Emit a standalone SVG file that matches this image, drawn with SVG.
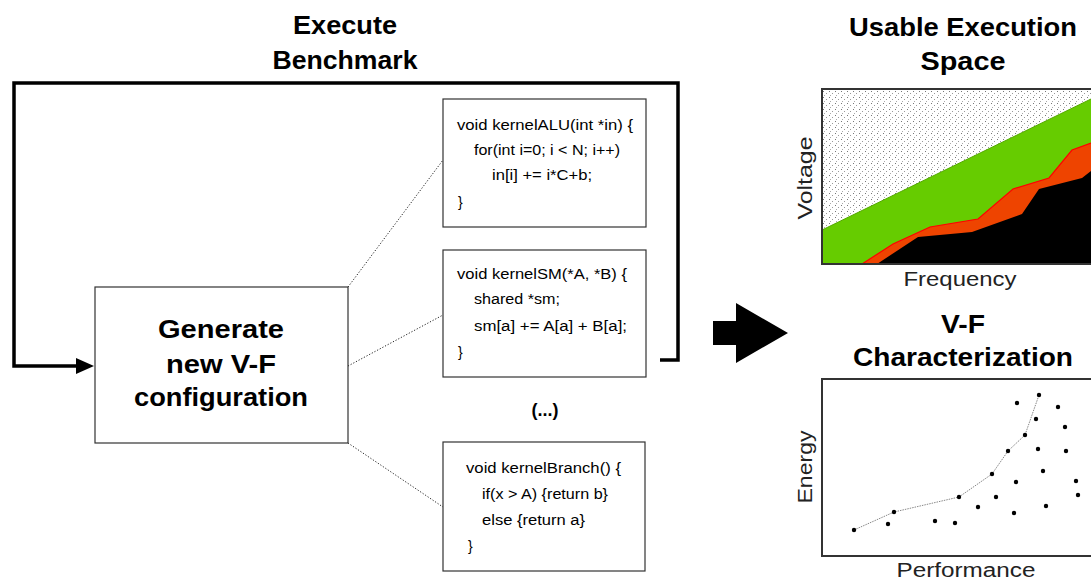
<svg xmlns="http://www.w3.org/2000/svg" width="1091" height="579" viewBox="0 0 1091 579">
<style>
.title{font-family:"Liberation Sans",Arial,sans-serif;font-weight:bold;font-size:25px;fill:#000;text-anchor:middle}
.code{font-family:"Liberation Sans",Arial,sans-serif;font-size:14px;fill:#000}
.axis{font-family:"Liberation Sans",Arial,sans-serif;font-size:20px;fill:#222;text-anchor:middle}
.box{fill:#fff;stroke:#333;stroke-width:1.2}
.dotline{fill:none;stroke:#222;stroke-width:1;stroke-dasharray:1.2 1.8}
.loop{fill:none;stroke:#000;stroke-width:3.5}
.pt{fill:#000}
</style>
<defs>
<pattern id="stip" width="6" height="6" patternUnits="userSpaceOnUse">
<rect width="6" height="6" fill="#fff"/>
<rect x="1" y="1" width="1" height="1" fill="#777"/>
<rect x="4" y="3" width="1" height="1" fill="#999"/>
<rect x="2" y="5" width="1" height="1" fill="#aaa"/>
</pattern>
</defs>

<g id="title-execute">
<text class="title" x="345" y="34" textLength="104" lengthAdjust="spacingAndGlyphs">Execute</text>
<text class="title" x="345" y="69" textLength="145" lengthAdjust="spacingAndGlyphs">Benchmark</text>
</g>

<g id="connectors">
<polyline class="loop" points="660,360 678,360 678,83 14,83 14,366 78,366"/>
<path d="M76,358 L94,366 L76,374 Z" fill="#000"/>
<line class="dotline" x1="348" y1="287" x2="443" y2="160"/>
<line class="dotline" x1="348" y1="366" x2="443" y2="315"/>
<line class="dotline" x1="348" y1="443" x2="443" y2="507"/>
</g>

<g id="node-generate">
<rect class="box" x="95" y="287" width="253" height="156"/>
<text class="title" x="221" y="338" textLength="126" lengthAdjust="spacingAndGlyphs">Generate</text>
<text class="title" x="221" y="373" textLength="110" lengthAdjust="spacingAndGlyphs">new V-F</text>
<text class="title" x="221" y="406" textLength="174" lengthAdjust="spacingAndGlyphs">configuration</text>
</g>

<g id="node-kernelALU">
<rect class="box" x="443" y="99" width="203" height="128"/>
<text class="code" x="457" y="130" textLength="176" lengthAdjust="spacingAndGlyphs">void kernelALU(int *in) {</text>
<text class="code" x="474" y="155" textLength="146" lengthAdjust="spacingAndGlyphs">for(int i=0; i &lt; N; i++)</text>
<text class="code" x="492" y="180" textLength="100" lengthAdjust="spacingAndGlyphs">in[i] += i*C+b;</text>
<text class="code" x="458" y="207">}</text>
</g>

<g id="node-kernelSM">
<rect class="box" x="443" y="250" width="203" height="127"/>
<text class="code" x="457" y="279" textLength="170" lengthAdjust="spacingAndGlyphs">void kernelSM(*A, *B) {</text>
<text class="code" x="474" y="304" textLength="86" lengthAdjust="spacingAndGlyphs">shared *sm;</text>
<text class="code" x="474" y="331" textLength="153" lengthAdjust="spacingAndGlyphs">sm[a] += A[a] + B[a];</text>
<text class="code" x="458" y="357">}</text>
</g>

<g id="node-ellipsis">
<text class="title" x="545" y="416" style="font-size:18px">(...)</text>
</g>

<g id="node-kernelBranch">
<rect class="box" x="443" y="442" width="202" height="129"/>
<text class="code" x="466" y="473" textLength="155" lengthAdjust="spacingAndGlyphs">void kernelBranch() {</text>
<text class="code" x="482" y="499" textLength="126" lengthAdjust="spacingAndGlyphs">if(x &gt; A) {return b}</text>
<text class="code" x="482" y="525" textLength="103" lengthAdjust="spacingAndGlyphs">else {return a}</text>
<text class="code" x="468" y="551">}</text>
</g>

<g id="big-arrow">
<path d="M713,321 L736,321 L736,303 L788,333 L736,363 L736,345 L713,345 Z" fill="#000"/>
</g>

<g id="title-usable">
<text class="title" x="963" y="36" textLength="228" lengthAdjust="spacingAndGlyphs">Usable Execution</text>
<text class="title" x="963" y="70" textLength="85" lengthAdjust="spacingAndGlyphs">Space</text>
</g>

<g id="chart-vf">
<rect x="822" y="89" width="272" height="175" fill="url(#stip)"/>
<path d="M822,230 L1091,99 L1091,264 L822,264 Z" fill="#66cc00"/>
<path d="M862,264 L893,244 L930,227 L978,219 L1013,189 L1049,178 L1072,150 L1091,143 L1091,264 Z" fill="#ee4400"/>
<polyline points="862,264 893,244 930,227 978,219 1013,189 1049,178 1072,150 1091,143" fill="none" stroke="#ff0000" stroke-width="1.2"/>
<path d="M877,264 L918,237 L972,232 L1022,214 L1039,189 L1082,178 L1091,171 L1091,264 Z" fill="#000"/>
<line x1="822" y1="230" x2="1091" y2="99" stroke="#55aa00" stroke-width="1"/>
<polyline points="1093,89 822,89 822,264 1093,264" fill="none" stroke="#333" stroke-width="2"/>
<text class="axis" x="0" y="0" transform="translate(812,178) rotate(-90)" textLength="83" lengthAdjust="spacingAndGlyphs">Voltage</text>
<text class="axis" x="960" y="286" textLength="113" lengthAdjust="spacingAndGlyphs">Frequency</text>
</g>

<g id="title-vf">
<text class="title" x="963" y="333" textLength="44" lengthAdjust="spacingAndGlyphs">V-F</text>
<text class="title" x="963" y="366" textLength="220" lengthAdjust="spacingAndGlyphs">Characterization</text>
</g>

<g id="chart-energy">
<polyline points="1093,379 822,379 822,556 1093,556" fill="none" stroke="#333" stroke-width="2"/>
<polyline points="854,530 894,512 959,497 992,474 1008,451 1025,435 1039,395" fill="none" stroke="#888" stroke-width="1" stroke-dasharray="1.5 1"/>
<g class="pt">
<circle cx="854" cy="530" r="2.2"/>
<circle cx="888" cy="524" r="2.2"/>
<circle cx="894" cy="512" r="2.2"/>
<circle cx="935" cy="521" r="2.2"/>
<circle cx="955" cy="523" r="2.2"/>
<circle cx="959" cy="497" r="2.2"/>
<circle cx="978" cy="507" r="2.2"/>
<circle cx="992" cy="474" r="2.2"/>
<circle cx="996" cy="497" r="2.2"/>
<circle cx="1008" cy="451" r="2.2"/>
<circle cx="1014" cy="513" r="2.2"/>
<circle cx="1016" cy="482" r="2.2"/>
<circle cx="1017" cy="403" r="2.2"/>
<circle cx="1025" cy="435" r="2.2"/>
<circle cx="1036" cy="419" r="2.2"/>
<circle cx="1038" cy="449" r="2.2"/>
<circle cx="1039" cy="395" r="2.2"/>
<circle cx="1043" cy="471" r="2.2"/>
<circle cx="1046" cy="506" r="2.2"/>
<circle cx="1058" cy="407" r="2.2"/>
<circle cx="1065" cy="427" r="2.2"/>
<circle cx="1066" cy="451" r="2.2"/>
<circle cx="1076" cy="481" r="2.2"/>
<circle cx="1078" cy="495" r="2.2"/>
</g>
<text class="axis" x="0" y="0" transform="translate(812,467) rotate(-90)" textLength="73" lengthAdjust="spacingAndGlyphs">Energy</text>
<text class="axis" x="966" y="577" textLength="139" lengthAdjust="spacingAndGlyphs">Performance</text>
</g>
</svg>
